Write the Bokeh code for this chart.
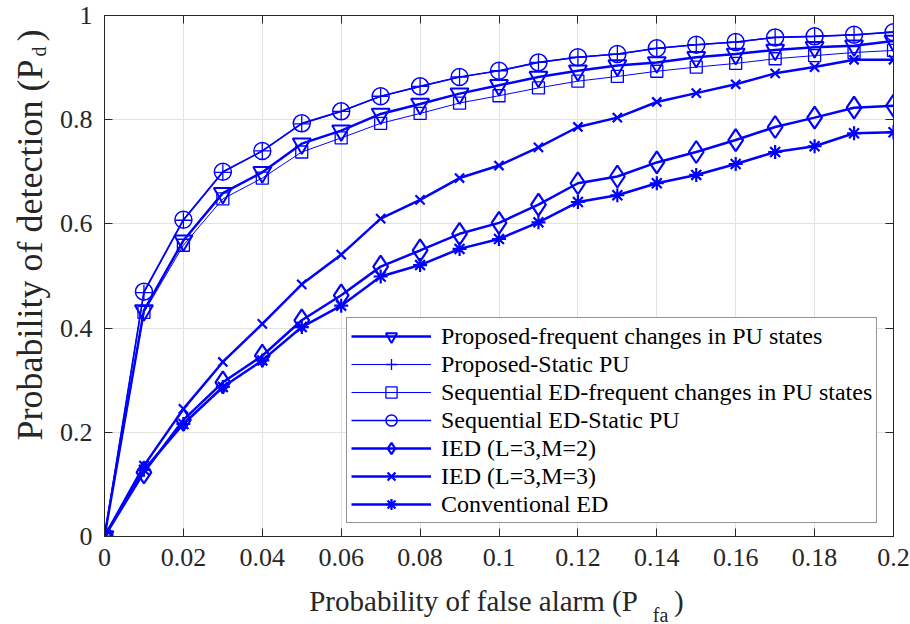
import math
from bokeh.plotting import figure
from bokeh.models import Range1d, LinearAxis, Legend, LegendItem, Label, FixedTicker
from bokeh.embed import file_html
from bokeh.resources import INLINE

# ---------------- data ----------------
pfa = [0.00, 0.01, 0.02, 0.03, 0.04, 0.05, 0.06, 0.07, 0.08, 0.09, 0.10,
       0.11, 0.12, 0.13, 0.14, 0.15, 0.16, 0.17, 0.18, 0.19, 0.20]

proposed_frequent = [0, 0.434, 0.568, 0.659, 0.699, 0.754, 0.779, 0.811, 0.830, 0.850, 0.866,
                     0.882, 0.894, 0.904, 0.910, 0.920, 0.926, 0.934, 0.939, 0.942, 0.951]
proposed_static = [0, 0.468, 0.607, 0.699, 0.740, 0.792, 0.816, 0.845, 0.864, 0.882, 0.894,
                   0.910, 0.920, 0.926, 0.937, 0.944, 0.949, 0.958, 0.960, 0.963, 0.968]
seq_frequent = [0, 0.430, 0.559, 0.648, 0.688, 0.738, 0.765, 0.793, 0.812, 0.832, 0.846,
                0.861, 0.874, 0.883, 0.893, 0.901, 0.908, 0.917, 0.923, 0.929, 0.933]
seq_static = [0, 0.470, 0.608, 0.700, 0.740, 0.793, 0.816, 0.845, 0.864, 0.882, 0.894,
              0.910, 0.920, 0.926, 0.937, 0.944, 0.949, 0.958, 0.960, 0.963, 0.968]
ied_l3m2 = [0, 0.123, 0.224, 0.296, 0.347, 0.415, 0.463, 0.518, 0.549, 0.581, 0.602,
            0.637, 0.678, 0.691, 0.718, 0.738, 0.761, 0.786, 0.804, 0.823, 0.827]
ied_l3m3 = [0, 0.136, 0.245, 0.335, 0.408, 0.484, 0.541, 0.610, 0.646, 0.688, 0.712,
            0.747, 0.786, 0.804, 0.834, 0.851, 0.868, 0.889, 0.901, 0.915, 0.915]
conventional = [0, 0.128, 0.216, 0.287, 0.338, 0.402, 0.443, 0.499, 0.521, 0.552, 0.571,
                0.603, 0.642, 0.655, 0.678, 0.694, 0.715, 0.738, 0.749, 0.774, 0.776]

series_names = ["Proposed-frequent changes in PU states",
                "Proposed-Static PU",
                "Sequential ED-frequent changes in PU states",
                "Sequential ED-Static PU",
                "IED (L=3,M=2)",
                "IED (L=3,M=3)",
                "Conventional ED"]

x_ticks = [0, 0.02, 0.04, 0.06, 0.08, 0.1, 0.12, 0.14, 0.16, 0.18, 0.2]
x_tick_labels = ["0", "0.02", "0.04", "0.06", "0.08", "0.1", "0.12", "0.14", "0.16", "0.18", "0.2"]
y_ticks = [0, 0.2, 0.4, 0.6, 0.8, 1.0]
y_tick_labels = ["0", "0.2", "0.4", "0.6", "0.8", "1"]

x_title = "Probability of false alarm (P"
x_title_sub = "fa"
y_title = "Probability of detection (P"
y_title_sub = "d"

# ---------------- styling ----------------
FONT = "'Liberation Serif', 'Times New Roman', serif"
BLUE = "#0000FF"
AX = "#262626"
NB = "\u00a0"

p = figure(width=910, height=624, output_backend="svg", toolbar_location=None,
           x_range=Range1d(0, 0.2), y_range=Range1d(0, 1),
           min_border_left=103, min_border_right=17, min_border_top=15, min_border_bottom=88)
p.background_fill_color = "white"
p.border_fill_color = "white"
p.outline_line_color = AX
p.outline_line_width = 1

def style_axis(ax, show_labels=True):
    ax.major_tick_in = 8
    ax.major_tick_out = 0
    ax.minor_tick_line_color = None
    ax.axis_line_color = AX
    ax.major_tick_line_color = AX
    ax.major_label_text_font = FONT
    ax.major_label_text_color = AX
    ax.major_label_text_font_size = "26px" if show_labels else "1px"
    if not show_labels:
        ax.major_label_standoff = 0

p.xaxis.ticker = FixedTicker(ticks=x_ticks)
p.yaxis.ticker = FixedTicker(ticks=y_ticks)
p.xaxis.major_label_overrides = {t: l for t, l in zip(x_ticks, x_tick_labels)}
p.yaxis.major_label_overrides = {t: l for t, l in zip(y_ticks, y_tick_labels)}
style_axis(p.xaxis[0])
style_axis(p.yaxis[0])
p.xaxis.major_label_standoff = 12
p.yaxis.major_label_standoff = 12

top = LinearAxis(ticker=FixedTicker(ticks=x_ticks),
                 major_label_overrides={t: "" for t in x_ticks})
style_axis(top, False)
right = LinearAxis(ticker=FixedTicker(ticks=y_ticks),
                   major_label_overrides={t: "" for t in y_ticks})
style_axis(right, False)
p.add_layout(top, "above")
p.add_layout(right, "right")

p.xgrid.ticker = FixedTicker(ticks=x_ticks)
p.ygrid.ticker = FixedTicker(ticks=y_ticks)
p.xgrid.grid_line_color = "#e2e2e2"
p.ygrid.grid_line_color = "#e2e2e2"

# ---------------- series ----------------
specs = [
    (proposed_frequent, "inverted_triangle", 18, 2.5, 2.0),
    (proposed_static, "cross", 16, 1.2, 1.3),
    (seq_frequent, "square", 12, 1.0, 1.3),
    (seq_static, "circle", 17, 1.6, 1.5),
    (ied_l3m2, "diamond", 22, 2.5, 2.2),
    (ied_l3m3, "x", 13, 2.5, 2.2),
    (conventional, "asterisk", 14, 2.5, 2.2),
]

items = []
for (vals, marker, size, lw, mlw), name in zip(specs, series_names):
    r1 = p.line(pfa, vals, line_color=BLUE, line_width=lw)
    r2 = p.scatter(pfa, vals, marker=marker, size=size, line_color=BLUE,
                   fill_color=None, line_width=mlw)
    items.append(LegendItem(label=name, renderers=[r1, r2]))

legend = Legend(items=items, location=(242, 13))
legend.label_text_font = FONT
legend.label_text_font_size = "24px"
legend.label_text_color = "black"
legend.glyph_width = 80
legend.glyph_height = 28
legend.label_height = 28
legend.label_standoff = 10
legend.spacing = 0
legend.padding = 4
legend.margin = 0
legend.border_line_color = AX
legend.border_line_width = 1
legend.background_fill_color = "white"
legend.background_fill_alpha = 1
p.add_layout(legend, "center")

# ---------------- axis titles (side panels, so they are not clipped) ----------------
px_x = 0.2 / 790.0
px_y = 1.0 / 521.0
def dx(px):
    return (px - 103) * px_x
def dy(py):
    return (536 - py) * px_y

# x title with closing parenthesis, gap kept for the subscript
p.add_layout(Label(x=dx(308), y=dy(600), text=x_title + NB * 5 + ")",
                   text_font=FONT, text_font_size="29px", text_color=AX,
                   text_align="left", text_baseline="alphabetic"), "below")
# y title (rotated)
p.add_layout(Label(x=dx(28), y=dy(440), text=y_title + NB * 2 + ")",
                   angle=math.pi / 2, text_font=FONT, text_font_size="36px", text_color=AX,
                   text_align="left", text_baseline="alphabetic"), "left")
# subscripts
p.add_layout(Label(x=dx(652), y=dy(614), text=x_title_sub,
                   text_font=FONT, text_font_size="20px", text_color=AX,
                   text_align="left", text_baseline="alphabetic"), "left")
p.add_layout(Label(x=dx(37), y=dy(56), text=y_title_sub,
                   angle=math.pi / 2, text_font=FONT, text_font_size="20px", text_color=AX,
                   text_align="left", text_baseline="alphabetic"), "below")

open("out.html", "w").write(file_html(p, INLINE))
